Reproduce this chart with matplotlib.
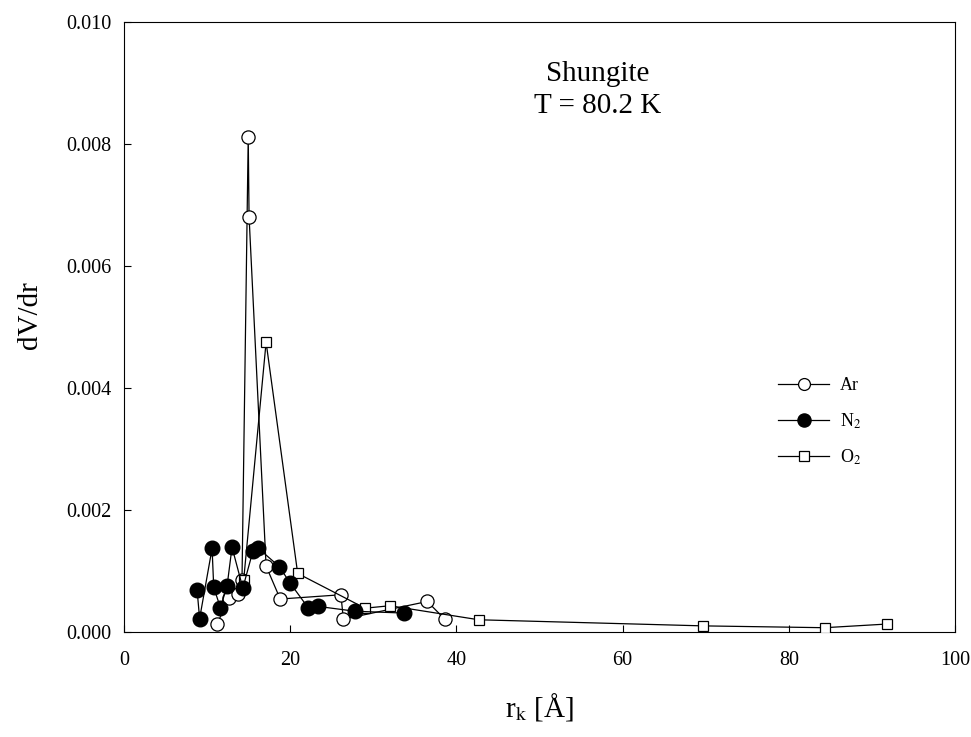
import matplotlib
matplotlib.use("Agg")
import matplotlib.pyplot as plt
from matplotlib.ticker import FormatStrFormatter

plt.rcParams['font.family'] = ['Liberation Serif', 'DejaVu Serif']
plt.rcParams['mathtext.fontset'] = 'stix'

# Ar (open circles)
ar_r = [11.2, 12.6, 13.7, 14.2, 14.95, 15.05, 17.1, 18.8, 26.1, 26.4, 36.5, 38.6]
ar_v = [0.00013, 0.00055, 0.00062, 0.00085, 0.00812, 0.00681, 0.00108, 0.00054,
        0.00061, 0.00021, 0.00050, 0.00021]

# N2 (filled circles)
n2_r = [8.8, 9.1, 10.6, 10.8, 11.6, 12.4, 13.0, 14.3, 15.5, 16.1, 18.7, 20.0,
        22.2, 23.3, 27.8, 33.7]
n2_v = [0.00068, 0.00022, 0.00137, 0.00073, 0.00040, 0.00075, 0.00139, 0.00072,
        0.00132, 0.00138, 0.00107, 0.00080, 0.00039, 0.00042, 0.00034, 0.00031]

# O2 (open squares)
o2_r = [14.4, 17.1, 20.9, 29.0, 32.0, 42.7, 69.7, 84.3, 91.8]
o2_v = [0.00085, 0.00475, 0.00096, 0.00039, 0.00043, 0.00020, 0.00010, 0.00007, 0.00013]

fig = plt.figure(figsize=(9.71, 7.37), dpi=100)
ax = fig.add_axes([0.1277, 0.1425, 0.8558, 0.8277])

ax.plot(ar_r, ar_v, color='black', lw=0.9, marker='o', ms=9.5,
        mfc='white', mec='black', mew=0.9, label='Ar', zorder=3)
ax.plot(n2_r, n2_v, color='black', lw=0.9, marker='o', ms=10.5,
        mfc='black', mec='black', label='N$_2$', zorder=4)
ax.plot(o2_r, o2_v, color='black', lw=0.9, marker='s', ms=7.5,
        mfc='white', mec='black', mew=0.9, label='O$_2$', zorder=3)

ax.set_xlim(0, 100)
ax.set_ylim(0, 0.010)
ax.set_xticks([0, 20, 40, 60, 80, 100])
ax.set_yticks([0.0, 0.002, 0.004, 0.006, 0.008, 0.010])
ax.yaxis.set_major_formatter(FormatStrFormatter('%.3f'))
ax.tick_params(direction='in', length=5, width=0.8, labelsize=14.5)
ax.tick_params(axis='y', pad=9)
ax.tick_params(axis='x', pad=14)

ax.set_xlabel(r'r$_\mathrm{k}$ [Å]', fontsize=21, labelpad=15)
ax.set_ylabel('dV/dr', fontsize=21)
ax.yaxis.set_label_coords(-0.098, 0.52)

ax.text(0.57, 0.915, 'Shungite', transform=ax.transAxes, ha='center',
        va='center', fontsize=21)
ax.text(0.57, 0.862, 'T = 80.2 K', transform=ax.transAxes, ha='center',
        va='center', fontsize=21)

ax.legend(loc='center left', bbox_to_anchor=(0.768, 0.344), frameon=False,
          fontsize=13, handlelength=2.8, labelspacing=0.95, markerscale=0.9,
          handletextpad=0.6)

fig.savefig('out.png', dpi=100)
